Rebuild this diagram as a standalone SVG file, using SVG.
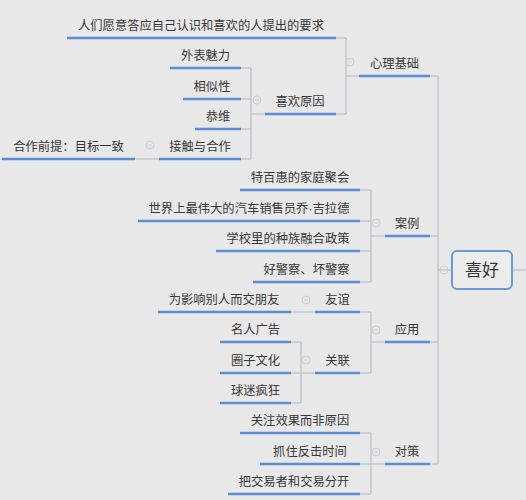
<svg xmlns="http://www.w3.org/2000/svg" width="526" height="500" viewBox="0 0 526 500">
<style>
text{font-family:"Noto Sans CJK SC","Noto Sans",sans-serif;font-size:12.3px;fill:#383838;text-anchor:middle}
.u{stroke:#5b8dd4;stroke-width:2.5;fill:none}
.c{stroke:#a9b8cb;stroke-width:1;fill:none}
.t{stroke:#c9cdd3;stroke-width:1;fill:none}
.big{font-size:17px}
.dot{font-family:"Liberation Sans",sans-serif}
</style>
<defs>
<g id="tog"><circle r="4" class="t"/><line x1="-2" y1="0" x2="2" y2="0" class="t"/></g>
</defs>
<rect width="526" height="500" fill="#e8e8e8"/>
<g id="connectors">
<path class="c" d="M438 76V464M430 76H438M430 236H438M430 342H438M430 464H438M438 270H452M512 270H526"/>
<path class="c" d="M336 38H346V114H336M346 76H359"/>
<path class="c" d="M241 68H251V159H241M241 99H251M241 129H251M251 114H265"/>
<path class="c" d="M135 159H159"/>
<path class="c" d="M360 190H371V282H360M360 221H371M360 251H371M371 236H385"/>
<path class="c" d="M360 312H371V373H360M371 342H385"/>
<path class="c" d="M291 312H315"/>
<path class="c" d="M291 342H301V403H291M291 373H315"/>
<path class="c" d="M360 433H371V494H360M360 464H385"/>
</g>
<g id="root">
<rect x="452" y="251" width="60" height="38" rx="5" fill="#ececec" stroke="#6b9ad8" stroke-width="2"/>
<text x="482" y="276" class="big">喜好</text>
<use href="#tog" x="444" y="270"/>
</g>
<g id="n-xinli"><line class="u" x1="359" y1="76" x2="430" y2="76"/><text x="394.5" y="68">心理基础</text><use href="#tog" x="350" y="62"/></g>
<g id="n-renmen"><line class="u" x1="67" y1="38" x2="336" y2="38"/><text x="201" y="30">人们愿意答应自己认识和喜欢的人提出的要求</text></g>
<g id="n-xihuan"><line class="u" x1="265" y1="114" x2="336" y2="114"/><text x="300" y="106">喜欢原因</text><use href="#tog" x="257" y="100"/></g>
<g id="n-waibiao"><line class="u" x1="170" y1="68" x2="241" y2="68"/><text x="205.5" y="60">外表魅力</text></g>
<g id="n-xiangsi"><line class="u" x1="183" y1="99" x2="241" y2="99"/><text x="212" y="91">相似性</text></g>
<g id="n-gongwei"><line class="u" x1="195" y1="129" x2="241" y2="129"/><text x="218" y="121">恭维</text></g>
<g id="n-jiechu"><line class="u" x1="159" y1="159" x2="241" y2="159"/><text x="200" y="151">接触与合作</text><use href="#tog" x="150" y="145"/></g>
<g id="n-hezuo"><line class="u" x1="2" y1="159" x2="135" y2="159"/><text x="68.5" y="151">合作前提：目标一致</text></g>
<g id="n-anli"><line class="u" x1="385" y1="236" x2="430" y2="236"/><text x="407" y="228">案例</text><use href="#tog" x="376" y="223"/></g>
<g id="n-tebai"><line class="u" x1="240" y1="190" x2="360" y2="190"/><text x="300" y="182">特百惠的家庭聚会</text></g>
<g id="n-shijie"><line class="u" x1="138" y1="221" x2="360" y2="221"/><text x="249" y="213">世界上最伟大的汽车销售员乔<tspan class="dot">·</tspan>吉拉德</text></g>
<g id="n-xuexiao"><line class="u" x1="216" y1="251" x2="360" y2="251"/><text x="288" y="243">学校里的种族融合政策</text></g>
<g id="n-jingcha"><line class="u" x1="253" y1="282" x2="360" y2="282"/><text x="306.5" y="274">好警察、坏警察</text></g>
<g id="n-yingyong"><line class="u" x1="385" y1="342" x2="430" y2="342"/><text x="407" y="334">应用</text><use href="#tog" x="376" y="330"/></g>
<g id="n-youyi"><line class="u" x1="315" y1="312" x2="360" y2="312"/><text x="337.5" y="304">友谊</text><use href="#tog" x="306" y="300"/></g>
<g id="n-weiyingxiang"><line class="u" x1="158" y1="312" x2="291" y2="312"/><text x="224" y="304">为影响别人而交朋友</text></g>
<g id="n-guanlian"><line class="u" x1="315" y1="373" x2="360" y2="373"/><text x="337.5" y="365">关联</text><use href="#tog" x="306" y="360"/></g>
<g id="n-mingren"><line class="u" x1="220" y1="342" x2="291" y2="342"/><text x="255.5" y="334">名人广告</text></g>
<g id="n-quanzi"><line class="u" x1="220" y1="373" x2="291" y2="373"/><text x="255.5" y="365">圈子文化</text></g>
<g id="n-qiumi"><line class="u" x1="220" y1="403" x2="291" y2="403"/><text x="255.5" y="395">球迷疯狂</text></g>
<g id="n-duice"><line class="u" x1="385" y1="464" x2="430" y2="464"/><text x="407" y="456">对策</text><use href="#tog" x="376" y="452"/></g>
<g id="n-guanzhu"><line class="u" x1="240" y1="433" x2="360" y2="433"/><text x="300" y="425">关注效果而非原因</text></g>
<g id="n-zhuazhu"><line class="u" x1="260" y1="464" x2="360" y2="464"/><text x="310" y="456">抓住反击时间</text></g>
<g id="n-ba"><line class="u" x1="228" y1="494" x2="360" y2="494"/><text x="294" y="486">把交易者和交易分开</text></g>
</svg>
